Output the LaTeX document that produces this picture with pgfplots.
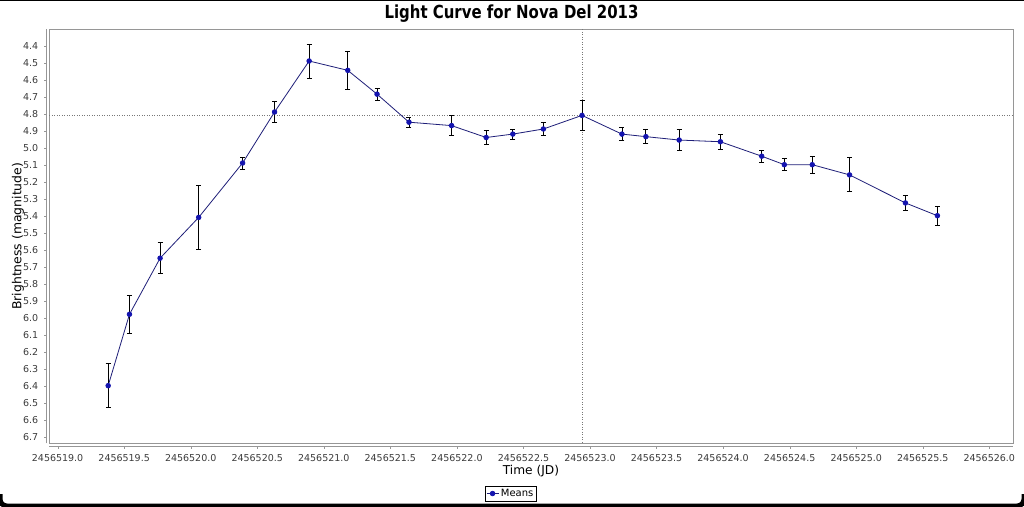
\documentclass[border=0pt]{standalone}
\usepackage{fontspec}
\setmainfont{DejaVu Sans}
\usepackage{pgfplots}
\pgfplotsset{compat=1.18}
\usepackage{graphicx}
\definecolor{meanline}{RGB}{30,30,120}
\definecolor{meanmark}{RGB}{20,20,175}
\definecolor{framegray}{RGB}{150,150,150}
\definecolor{ticktext}{RGB}{60,60,60}

% x = JD - 2456519, y = magnitude, ey = error
\pgfplotstableread{
x     y      ey
0.38  6.40   0.13
0.54  5.98   0.11
0.77  5.65   0.09
1.06  5.41   0.19
1.39  5.09   0.035
1.63  4.79   0.06
1.89  4.49   0.10
2.18  4.545  0.11
2.40  4.685  0.035
2.64  4.85   0.03
2.96  4.87   0.06
3.22  4.94   0.04
3.42  4.92   0.03
3.65  4.89   0.04
3.94  4.81   0.09
4.24  4.92   0.04
4.42  4.935  0.04
4.67  4.955  0.06
4.98  4.965  0.045
5.29  5.05   0.035
5.46  5.10   0.035
5.67  5.10   0.05
5.95  5.16   0.10
6.37  5.325  0.045
6.61  5.40   0.055
}\means

\begin{document}
\begin{tikzpicture}
\fill[white] (0,0) rectangle (1024pt,506pt);
\begin{axis}[
    at={(531pt,269.7pt)}, anchor=center,
    scale only axis,
    width=963.4pt, height=414pt,
    xmin=-0.0624, xmax=7.176,
    ymin=4.3035, ymax=6.739,
    y dir=reverse,
    axis line style={framegray},
    tick pos=left,
    tick align=outside,
    major tick length=2.5pt,
    xtick style={framegray, yshift=-2.7pt},
    ytick style={framegray, xshift=-2.6pt},
    xtick={0,0.5,1,1.5,2,2.5,3,3.5,4,4.5,5,5.5,6,6.5,7},
    xticklabels={2456519.0,2456519.5,2456520.0,2456520.5,2456521.0,2456521.5,2456522.0,2456522.5,2456523.0,2456523.5,2456524.0,2456524.5,2456525.0,2456525.5,2456526.0},
    ytick={4.4,4.5,4.6,4.7,4.8,4.9,5.0,5.1,5.2,5.3,5.4,5.5,5.6,5.7,5.8,5.9,6.0,6.1,6.2,6.3,6.4,6.5,6.6,6.7},
    yticklabel={\pgfmathprintnumber[fixed,fixed zerofill,precision=1]{\tick}},
    /pgf/number format/assume math mode=true,
    ticklabel style={font=\fontsize{9.5}{11}\selectfont, text=ticktext},
    xticklabel style={yshift=-5.5pt},
    yticklabel style={xshift=-5pt},
    xlabel={Time (JD)},
    ylabel={Brightness (magnitude)},
    every axis x label/.style={at={(axis description cs:0.5,-0.068)}, anchor=center,
        font=\fontsize{12.2}{14}\selectfont},
    every axis y label/.style={at={(axis description cs:-0.0325,0.5)}, rotate=90, anchor=center,
        font=\fontsize{12.4}{14}\selectfont},
    legend style={at={(axis description cs:0.479,-0.1213)}, anchor=center,
        draw=black, line width=0.6pt, inner sep=1.2pt,
        font=\fontsize{10}{11}\selectfont,
        /tikz/every even column/.append style={column sep=1pt}},
    legend image code/.code={\draw[mark repeat=2,mark phase=2] plot coordinates {(0pt,0pt)(6pt,0pt)(12pt,0pt)};},
    clip=false,
]
% crosshair
\addplot[framegray!80!black, line width=0.5pt, dash pattern=on 1pt off 1.5pt, forget plot]
    coordinates {(3.94,4.3035) (3.94,6.739)};
\addplot[framegray!80!black, line width=0.5pt, dash pattern=on 1pt off 1.5pt, forget plot]
    coordinates {(-0.0624,4.81) (7.176,4.81)};
% offset axis lines
\draw[framegray] ([xshift=-2.6pt]rel axis cs:0,0) -- ([xshift=-2.6pt]rel axis cs:0,1);
\draw[framegray] ([yshift=-2.7pt]rel axis cs:0,0) -- ([yshift=-2.7pt]rel axis cs:1,0);
\addplot[meanline, line width=0.8pt,
    mark=*, mark size=2.3pt, mark options={meanmark, fill=meanmark},
    error bars/.cd, y dir=both, y explicit,
    error bar style={black, line width=0.8pt},
    error mark options={black, rotate=90, mark size=2.5pt, line width=0.8pt}]
    table[x=x, y=y, y error=ey] {\means};
\addlegendentry{Means}
\end{axis}
\node at (511.5pt,492.5pt) {\scalebox{0.83}[1]{\fontsize{18}{20}\selectfont\bfseries Light Curve for Nova Del 2013}};
\draw[black, line width=2pt] (0,506pt) -- (1024pt,506pt);
\draw[black, line width=5pt, rounded corners=7pt] (0,12pt) -- (0,0) -- (1024pt,0) -- (1024pt,12pt);
\pgfresetboundingbox
\path (0,0) rectangle (1024pt,506pt);
\end{tikzpicture}
\end{document}
